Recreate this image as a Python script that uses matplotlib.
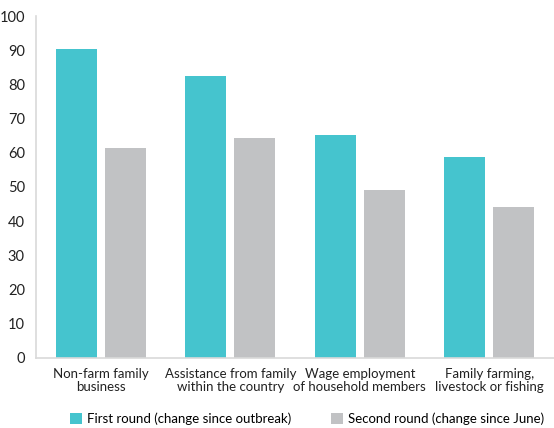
import numpy as np
import matplotlib.pyplot as plt

plt.rcParams['font.family'] = ['Lato', 'DejaVu Sans']

categories = ["Non-farm family\nbusiness", "Assistance from family\nwithin the country",
              "Wage employment\nof household members", "Family farming,\nlivestock or fishing"]
first_round = [90.4, 82.5, 65.2, 58.8]
second_round = [61.4, 64.3, 49.1, 44.2]

teal = '#45c4ce'
grey = '#c1c2c4'

fig = plt.figure(figsize=(5.54, 4.28), dpi=100)
ax = fig.add_axes([0.065, 0.1636, 0.935, 0.799])

x = np.arange(len(categories))
w = 0.315
ax.bar(x - 0.19, first_round, w, color=teal, label='First round (change since outbreak)')
ax.bar(x + 0.19, second_round, w, color=grey, label='Second round (change since June)')

ax.set_xlim(-0.5, 3.5)
ax.set_ylim(0, 100)
ax.set_yticks(range(0, 101, 10))
ax.set_xticks(x)
ax.set_xticklabels(categories, fontsize=9.5, color='#222222', linespacing=1.1)
ax.tick_params(axis='y', labelsize=10.5, colors='#222222', length=0, pad=8)
ax.tick_params(axis='x', length=0, pad=7)
for s in ['top', 'right']:
    ax.spines[s].set_visible(False)
for s in ['left', 'bottom']:
    ax.spines[s].set_color('#d9d9d9')
    ax.spines[s].set_linewidth(1.2)

fig.legend(loc='center', bbox_to_anchor=(0.555, 0.022), ncol=2, frameon=False,
           fontsize=9.5, handlelength=0.9, handleheight=0.9, columnspacing=3.0,
           handletextpad=0.4, borderpad=0)

fig.savefig('out.png', dpi=100)
